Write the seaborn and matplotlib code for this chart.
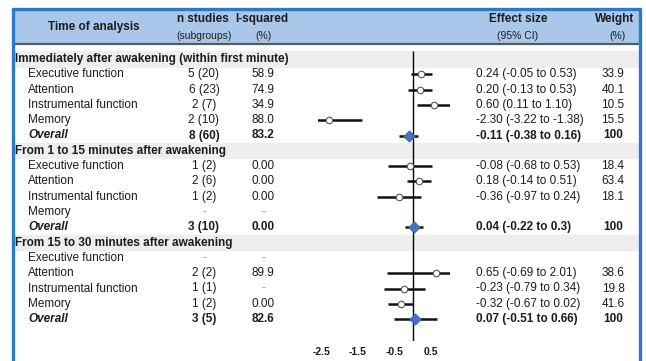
import numpy as np
import pandas as pd
import matplotlib
matplotlib.use("Agg")
import matplotlib.pyplot as plt
from matplotlib.patches import Rectangle
import seaborn as sns

# ---- data ----
sections = ["Immediately after awakening (within first minute)",
            "From 1 to 15 minutes after awakening",
            "From 15 to 30 minutes after awakening"]
domains = ["Executive function", "Attention", "Instrumental function", "Memory", "Overall"]

n_studies = [["5 (20)", "6 (23)", "2 (7)", "2 (10)", "8 (60)"],
             ["1 (2)", "2 (6)", "1 (2)", "-", "3 (10)"],
             ["-", "2 (2)", "1 (1)", "1 (2)", "3 (5)"]]
i_squared = [["58.9", "74.9", "34.9", "88.0", "83.2"],
             ["0.00", "0.00", "0.00", "-", "0.00"],
             ["-", "89.9", "-", "0.00", "82.6"]]
effect = [[0.24, 0.20, 0.60, -2.30, -0.11],
          [-0.08, 0.18, -0.36, np.nan, 0.04],
          [np.nan, 0.65, -0.23, -0.32, 0.07]]
lower = [[-0.05, -0.13, 0.11, -3.22, -0.38],
         [-0.68, -0.14, -0.97, np.nan, -0.22],
         [np.nan, -0.69, -0.79, -0.67, -0.51]]
upper = [[0.53, 0.53, 1.10, -1.38, 0.16],
         [0.53, 0.51, 0.24, np.nan, 0.30],
         [np.nan, 2.01, 0.34, 0.02, 0.66]]
effect_text = [["0.24 (-0.05 to 0.53)", "0.20 (-0.13 to 0.53)", "0.60 (0.11 to 1.10)",
                "-2.30 (-3.22 to -1.38)", "-0.11 (-0.38 to 0.16)"],
               ["-0.08 (-0.68 to 0.53)", "0.18 (-0.14 to 0.51)", "-0.36 (-0.97 to 0.24)",
                "", "0.04 (-0.22 to 0.3)"],
               ["", "0.65 (-0.69 to 2.01)", "-0.23 (-0.79 to 0.34)",
                "-0.32 (-0.67 to 0.02)", "0.07 (-0.51 to 0.66)"]]
weights = [["33.9", "40.1", "10.5", "15.5", "100"],
           ["18.4", "63.4", "18.1", "", "100"],
           ["", "38.6", "19.8", "41.6", "100"]]
x_ticks = [-2.5, -1.5, -0.5, 0.5]

# long table, one row per line of the chart
rows = []
r = 0
for s, title in enumerate(sections):
    rows.append(dict(row=r, kind="section", label=title))
    r += 1
    for d, dom in enumerate(domains):
        rows.append(dict(row=r, kind="overall" if dom == "Overall" else "study", label=dom,
                         n=n_studies[s][d], i2=i_squared[s][d], es=effect[s][d],
                         lo=lower[s][d], hi=upper[s][d], es_txt=effect_text[s][d],
                         w=weights[s][d]))
        r += 1
df = pd.DataFrame(rows)

sns.set_theme(style="white")
plt.rcParams["font.family"] = ["Liberation Sans", "DejaVu Sans"]

W, H = 646, 361
fig = plt.figure(figsize=(W / 100, H / 100), dpi=100)
bg = fig.add_axes([0, 0, 1, 1])
bg.set_xlim(0, W)
bg.set_ylim(H, 0)
bg.axis("off")

y0, dy = 59, 15.3
def ypix(i):
    return y0 + dy * i

txt = "#1c1c1c"
fs = 8.5

# header band and frame
bg.add_patch(Rectangle((14, 10), 624, 33, color="#a9c7e8", zorder=0))
bg.plot([14, 638], [44, 44], color="#5c5c5c", lw=1.6, zorder=2)
for _, rw in df[df.kind == "section"].iterrows():
    bg.add_patch(Rectangle((14, ypix(rw.row) - dy / 2), 624, dy, color="#eeeeee", zorder=0))
bg.plot([13, 13], [9, H], color="#2f78c6", lw=2.4, zorder=3)
bg.plot([13, 640], [9, 9], color="#2f78c6", lw=2.4, zorder=3)
bg.plot([640, 640], [9, H], color="#2f78c6", lw=2.4, zorder=3)

bg.text(94, 27, "Time of analysis", ha="center", va="center", fontsize=fs, fontweight="bold", color=txt)
bg.text(203, 19, "n studies", ha="center", va="center", fontsize=fs, fontweight="bold", color=txt)
bg.text(204, 36, "(subgroups)", ha="center", va="center", fontsize=7.5, color=txt)
bg.text(262, 19, "I-squared", ha="center", va="center", fontsize=fs, fontweight="bold", color=txt)
bg.text(263, 36, "(%)", ha="center", va="center", fontsize=7.5, color=txt)
bg.text(518, 19, "Effect size", ha="center", va="center", fontsize=fs, fontweight="bold", color=txt)
bg.text(518, 36, "(95% CI)", ha="center", va="center", fontsize=7.5, color=txt)
bg.text(615, 19, "Weight", ha="center", va="center", fontsize=fs, fontweight="bold", color=txt)
bg.text(617, 36, "(%)", ha="center", va="center", fontsize=7.5, color=txt)

for _, rw in df.iterrows():
    y = ypix(rw.row)
    if rw.kind == "section":
        bg.text(15, y, rw.label, ha="left", va="center", fontsize=fs, fontweight="bold", color=txt)
        continue
    bold = rw.kind == "overall"
    wt = "bold" if bold else "normal"
    bg.text(28, y, rw.label, ha="left", va="center", fontsize=fs, fontweight=wt,
            fontstyle="italic" if bold else "normal", color=txt)
    for val, xc in [(rw.n, 204), (rw.i2, 263)]:
        bg.text(xc, y, val, ha="center", va="center", fontsize=fs, fontweight=wt,
                color="#9a9a9a" if val == "-" else txt)
    bg.text(476, y, rw.es_txt, ha="left", va="center", fontsize=fs, fontweight=wt, color=txt)
    bg.text(613, y, rw.w, ha="center", va="center", fontsize=fs, fontweight=wt, color=txt)

# forest panel: x in effect units, y in row units
x_lo, x_hi = -2.6, 1.03
px_l, px_r, px_bot = 318, 450, 341
ax = fig.add_axes([px_l / W, (H - px_bot) / H, (px_r - px_l) / W, px_bot / H])
ax.set_xlim(x_lo, x_hi)
ax.set_ylim((px_bot - y0) / dy, -y0 / dy)
ax.patch.set_alpha(0)
for sp in ax.spines.values():
    sp.set_visible(False)

ax.vlines(0, -0.55, (px_bot - y0) / dy, color="black", lw=1.0, zorder=1)
pts = df[df.kind != "section"].dropna(subset=["es"])
ax.hlines(pts.row, pts.lo, pts.hi, color="#111111", lw=1.8, zorder=2)

sns.scatterplot(data=pts[pts.kind == "study"], x="es", y="row", marker="o", s=22,
                color="white", edgecolor="#555555", linewidth=0.8, zorder=3, ax=ax, legend=False)
sns.scatterplot(data=pts[pts.kind == "overall"], x="es", y="row", marker="D", s=34,
                color="#4472c4", edgecolor="#3a62a8", linewidth=0.5, zorder=3, ax=ax, legend=False)

ax.set_xticks(x_ticks)
ax.set_xticklabels([f"{t:g}" for t in x_ticks], fontsize=7.5, fontweight="bold", color=txt)
ax.set_yticks([])
ax.tick_params(axis="x", length=0, pad=4)
ax.set_xlabel("")
ax.set_ylabel("")

fig.savefig("out.png", dpi=100)
